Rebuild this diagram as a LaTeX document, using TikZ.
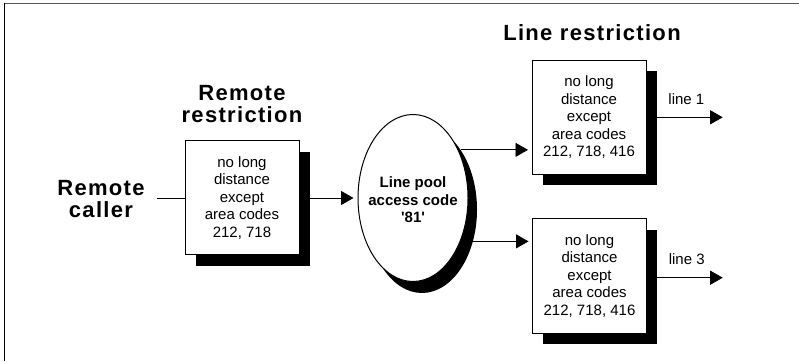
\documentclass[tikz,border=0pt]{standalone}
\usepackage{fontspec}
\setmainfont{Liberation Sans}
\newfontfamily\headfont[LetterSpace=6]{Liberation Sans}
\usetikzlibrary{arrows.meta,shapes.geometric}

\tikzset{
  rule/.style={draw, fill=white, line width=1pt, minimum width=114pt, minimum height=114pt, inner sep=0pt, align=center, font=\fontsize{15}{17.5}\selectfont},
  ruleshadow/.style={fill=black, minimum width=114pt, minimum height=114pt, inner sep=0pt, xshift=10.5pt, yshift=-11pt},
  pool/.style={ellipse, draw, fill=white, line width=1pt, minimum width=110pt, minimum height=167pt, inner sep=0pt},
  poolshadow/.style={ellipse, fill=black, minimum width=110pt, minimum height=167pt, inner sep=0pt, xshift=9pt, yshift=-11.5pt},
  pooltext/.style={align=center, inner sep=0pt, font=\fontsize{15}{17.6}\selectfont\bfseries},
  heading/.style={align=center, inner sep=0pt, font=\headfont\fontsize{22}{22}\selectfont\bfseries},
  arr/.style={line width=0.8pt, -{Triangle[length=12.5pt,width=14pt]}},
  lbl/.style={font=\fontsize{15}{17.5}\selectfont}
}

\begin{document}
\begin{tikzpicture}[x=1pt,y=1pt]
  \useasboundingbox (0,0) rectangle (799,361);
  % frame
  \draw[black!65, line width=1.3pt] (4.5,357.5) -- (799,357.5);
  \draw[line width=1.3pt] (4.5,0) -- (4.5,358.1);

  % shadows
  \node[ruleshadow] (rrsh) at (242,163) {};
  \node[poolshadow] (poolsh) at (413,163) {};
  \node[ruleshadow] (lr1sh) at (589,243.7) {};
  \node[ruleshadow] (lr3sh) at (589.5,85) {};

  % nodes
  \node[heading] (caller) at (101,162) {Remote\\caller};
  \node[rule] (rr) at (242,163) {no long\\distance\\except\\area codes\\212, 718};
  \node[pool] (pool) at (413,163) {};
  \node[pooltext] (pooltxt) at (413,161) {Line pool\\access code\\\textquotesingle 81\textquotesingle};
  \node[rule] (lr1) at (589,243.7) {no long\\distance\\except\\area codes\\212, 718, 416};
  \node[rule] (lr3) at (589.5,85) {no long\\distance\\except\\area codes\\212, 718, 416};

  \node[heading, anchor=south] (rrtitle) at (242,238) {Remote\\restriction};
  \node[heading, anchor=south] (lrtitle) at (592,320.3) {Line restriction};

  \coordinate (out1) at (722.7,243.7);
  \coordinate (out3) at (722.7,83.3);

  % connectors
  \draw[line width=0.8pt] (rr.west -| caller.east) ++(12,0) -- (rr.west);
  \draw[arr, shorten >=4pt] (rrsh.east |- rr.east) -- (rr.east -| pool.west);
  \draw[arr, shorten >=3.5pt] (poolsh.57) -- (poolsh.57 -| lr1.west);
  \draw[arr, shorten >=3.5pt] (poolsh.-32) -- (poolsh.-32 -| lr3.west);
  \draw[arr] (lr1sh.east |- out1) -- (out1) node[lbl, pos=0.45, above=9pt] (line1) {line 1};
  \draw[arr] (lr3sh.east |- out3) -- (out3) node[lbl, pos=0.45, above=9pt] (line3) {line 3};
\end{tikzpicture}
\end{document}
